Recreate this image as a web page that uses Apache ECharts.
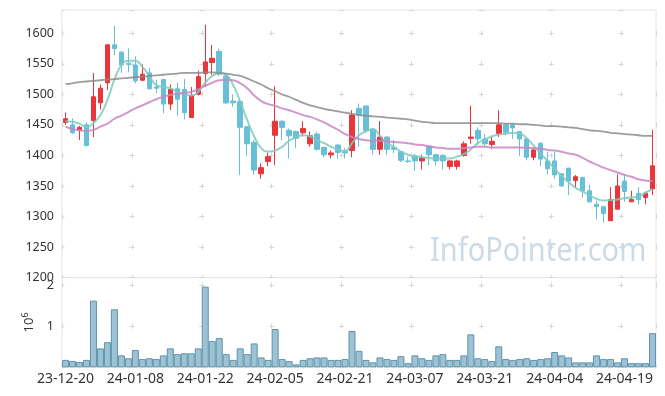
<!DOCTYPE html>
<html>
<head>
<meta charset="utf-8">
<script src="https://cdn.jsdelivr.net/npm/echarts@6/dist/echarts.min.js"></script>
<style>
html,body{margin:0;padding:0;background:#fff;}
#chart{width:665px;height:396px;}
</style>
</head>
<body>
<div id="chart"></div>
<script>
const dates = ['23-12-20','23-12-21','23-12-22','23-12-26','23-12-27','23-12-28','24-01-02','24-01-03','24-01-04','24-01-05',
'24-01-08','24-01-09','24-01-10','24-01-11','24-01-12','24-01-15','24-01-16','24-01-17','24-01-18','24-01-19',
'24-01-22','24-01-23','24-01-24','24-01-25','24-01-26','24-01-29','24-01-30','24-01-31','24-02-01','24-02-02',
'24-02-05','24-02-06','24-02-07','24-02-08','24-02-13','24-02-14','24-02-15','24-02-16','24-02-19','24-02-20',
'24-02-21','24-02-22','24-02-23','24-02-26','24-02-27','24-02-28','24-02-29','24-03-04','24-03-05','24-03-06',
'24-03-07','24-03-08','24-03-11','24-03-12','24-03-13','24-03-14','24-03-15','24-03-18','24-03-19','24-03-20',
'24-03-21','24-03-22','24-03-25','24-03-26','24-03-27','24-03-28','24-03-29','24-04-01','24-04-02','24-04-03',
'24-04-04','24-04-05','24-04-08','24-04-09','24-04-11','24-04-12','24-04-15','24-04-16','24-04-17','24-04-18',
'24-04-19','24-04-22','24-04-23','24-04-24','24-04-25'];

const openP = [1454,1450,1441,1450,1457,1486,1519,1581,1569,1551,
1548,1523,1535,1512,1524,1484,1509,1508,1462,1500,
1534,1552,1570,1530,1489,1488,1447,1421,1370,1390,
1433,1456,1441,1439,1437,1419,1435,1413,1401,1417,
1407,1408,1477,1481,1443,1410,1430,1413,1406,1391,
1399,1391,1415,1401,1400,1382,1382,1400,1428,1441,
1427,1418,1436,1450,1450,1439,1427,1397,1420,1391,
1391,1370,1379,1359,1364,1342,1320,1316,1293,1312,
1358,1324,1338,1331,1345];
const closeP = [1460,1437,1446,1416,1496,1510,1581,1575,1548,1549,
1522,1533,1509,1510,1484,1508,1492,1470,1498,1529,
1553,1559,1533,1486,1486,1446,1419,1376,1380,1398,
1456,1446,1432,1428,1444,1432,1410,1401,1404,1405,
1404,1466,1466,1441,1410,1430,1410,1410,1392,1390,
1391,1396,1401,1391,1391,1391,1391,1419,1430,1427,
1419,1423,1450,1438,1445,1427,1397,1409,1394,1378,
1368,1350,1358,1365,1342,1324,1316,1305,1328,1350,
1341,1328,1328,1338,1383];
const lowP = [1450,1435,1425,1415,1430,1475,1507,1564,1535,1536,
1518,1522,1508,1502,1469,1474,1465,1459,1462,1498,
1512,1532,1530,1484,1480,1368,1399,1368,1362,1382,
1384,1425,1395,1412,1431,1414,1408,1397,1395,1395,
1395,1397,1414,1437,1401,1401,1401,1404,1389,1388,
1375,1377,1384,1384,1377,1377,1377,1398,1419,1417,
1414,1411,1430,1433,1427,1399,1392,1392,1382,1369,
1362,1349,1335,1348,1331,1323,1295,1290,1293,1312,
1324,1324,1319,1320,1335];
const highP = [1470,1461,1448,1454,1535,1516,1581,1612,1571,1575,
1562,1549,1543,1524,1525,1516,1519,1525,1512,1539,
1614,1581,1575,1533,1500,1492,1448,1425,1387,1404,
1513,1457,1444,1441,1456,1439,1439,1414,1408,1418,
1412,1474,1485,1481,1445,1456,1431,1425,1407,1398,
1403,1401,1416,1403,1402,1392,1393,1423,1481,1446,
1435,1431,1474,1453,1453,1440,1428,1412,1421,1406,
1406,1371,1380,1368,1365,1352,1326,1318,1348,1369,
1369,1342,1348,1341,1442];

const maShort = [1456,1455,1452,1446,1453,1466,1491,1524,1548,1555,
1555,1545,1530,1515,1512,1510,1504,1500,1498,1504,
1519,1530,1535,1532,1515,1488,1458,1431,1412,1406,
1408,1414,1424,1430,1433,1431,1425,1420,1414,1410,
1407,1420,1433,1440,1443,1432,1420,1414,1406,1401,
1399,1397,1396,1395,1395,1395,1398,1402,1410,1420,
1426,1431,1434,1436,1437,1436,1428,1416,1403,1391,
1378,1366,1356,1347,1341,1335,1329,1326,1327,1328,
1330,1331,1333,1339,1345];
const maMid = [1447,1443,1441,1440,1442,1447,1452,1460,1465,1471,
1477,1482,1487,1492,1496,1499,1501,1502,1504,1508,
1514,1519,1523,1524,1523,1518,1510,1498,1489,1484,
1481,1477,1474,1470,1466,1463,1459,1454,1448,1442,
1435,1430,1427,1425,1424,1424,1423,1422,1421,1420,
1418,1417,1415,1413,1412,1411,1411,1412,1413,1414,
1414,1413,1413,1413,1413,1413,1412,1412,1411,1409,
1408,1406,1403,1401,1396,1390,1385,1380,1376,1372,
1368,1365,1361,1359,1358];
const maLong = [1517,1518,1520,1521,1522,1523,1524,1525,1526,1527,
1528,1529,1530,1531,1532,1533,1534,1535,1535,1535,
1536,1536,1535,1534,1532,1530,1526,1521,1516,1510,
1505,1500,1496,1491,1486,1482,1479,1476,1474,1472,
1470,1468,1466,1465,1464,1463,1462,1461,1460,1459,
1457,1455,1454,1453,1453,1453,1453,1453,1453,1453,
1453,1453,1453,1452,1452,1451,1451,1450,1449,1448,
1448,1447,1446,1445,1443,1441,1440,1439,1437,1436,
1435,1434,1433,1432,1432];

const volumeM = [0.18,0.155,0.13,0.18,1.62,0.46,0.61,1.41,0.29,0.22,
0.42,0.2,0.22,0.2,0.29,0.46,0.32,0.34,0.34,0.46,
1.96,0.64,0.71,0.32,0.18,0.46,0.32,0.58,0.24,0.18,
0.93,0.2,0.15,0.07,0.18,0.22,0.24,0.24,0.18,0.18,
0.2,0.88,0.4,0.18,0.12,0.24,0.2,0.18,0.27,0.1,
0.29,0.22,0.18,0.29,0.32,0.18,0.18,0.29,0.8,0.22,
0.2,0.15,0.51,0.2,0.18,0.2,0.22,0.18,0.2,0.22,
0.37,0.29,0.24,0.12,0.12,0.12,0.29,0.2,0.2,0.12,
0.22,0.1,0.1,0.1,0.83];

const candleData = dates.map((d, i) => [openP[i], closeP[i], lowP[i], highP[i]]);

const chart = echarts.init(document.getElementById('chart'), null, {renderer: 'canvas'});
const gridL = 62, gridR = 9;
const mainTop = 10, mainH = 267.6, volTop = 277.6, volH = 89.7;
const priceMin = 1200, priceMax = 1638;
const volMax = 2.18;
const plotW = 665 - gridL - gridR;
const xPeriod = plotW / dates.length * 10;
const pPeriod = mainH / (priceMax - priceMin) * 50;
const vPeriod = volH / volMax;
// phase of vertical dashes so that crosses sit on horizontal grid lines
const firstPriceLineRel = mainH - 8 * pPeriod;
const pOffset = pPeriod - ((firstPriceLineRel - 2.5) % pPeriod);
const firstVolLineRel = volH - 2 * vPeriod;
const vOffset = vPeriod - ((firstVolLineRel - 2.5) % vPeriod);
const crossColor = '#d6d6d6';
const txt = '#333';
const font = 'Noto Sans';

chart.setOption({
  animation: false,
  backgroundColor: '#fff',
  grid: [
    {left: gridL, right: gridR, top: mainTop, height: mainH, show: true, borderColor: '#e6e6e6', borderWidth: 1},
    {left: gridL, right: gridR, top: volTop, height: volH, show: true, borderColor: '#e6e6e6', borderWidth: 1}
  ],
  xAxis: [
    {type: 'category', gridIndex: 0, data: dates, boundaryGap: true,
     axisLine: {show: false}, axisTick: {show: false, interval: 9}, axisLabel: {show: false, interval: 9},
     splitLine: {show: true, interval: 9, lineStyle: {color: crossColor, width: 1, type: [5, pPeriod - 5], dashOffset: pOffset}}},
    {type: 'category', gridIndex: 1, data: dates, boundaryGap: true,
     axisLine: {show: false}, axisTick: {show: false, interval: 9},
     axisLabel: {show: true, interval: 9, color: txt, fontSize: 14, fontFamily: font, margin: 5},
     splitLine: {show: true, interval: 9, lineStyle: {color: crossColor, width: 1, type: [5, vPeriod - 5], dashOffset: vOffset}}}
  ],
  yAxis: [
    {type: 'value', gridIndex: 0, min: priceMin, max: priceMax, interval: 50,
     axisLine: {show: false}, axisTick: {show: false},
     axisLabel: {color: txt, fontSize: 12.5, fontFamily: font, margin: 8,
       formatter: v => (v % 50 === 0 ? String(v) : '')},
     splitLine: {show: true, lineStyle: {color: crossColor, width: 1, type: [5, xPeriod - 5], dashOffset: 2.5}}},
    {type: 'value', gridIndex: 1, min: 0, max: volMax, interval: 1,
     axisLine: {show: false}, axisTick: {show: false},
     axisLabel: {color: txt, fontSize: 12.5, fontFamily: font, margin: 8,
       formatter: v => ((v === 1 || v === 2) ? String(v) : '')},
     splitLine: {show: true, lineStyle: {color: crossColor, width: 1, type: [5, xPeriod - 5], dashOffset: 2.5}},
     name: '{b|10}{s|6}', nameLocation: 'middle', nameRotate: 90, nameGap: 22,
     nameTextStyle: {rich: {b: {fontSize: 13, fontFamily: font, color: txt}, s: {fontSize: 9, fontFamily: font, color: txt, padding: [0, 0, 8, 0]}}}}
  ],
  graphic: [
    {type: 'text', left: 430, top: 236, z: 0, silent: true, scaleY: 1.12,
     style: {text: 'InfoPointer.com', font: '29px "Noto Sans"', fill: '#cddbe6'}}
  ],
  series: [
    {type: 'candlestick', name: 'price', xAxisIndex: 0, yAxisIndex: 0, data: candleData, barWidth: 5, z: 2,
     itemStyle: {color: '#e8363a', color0: '#67bfd8', borderColor: '#e8363a', borderColor0: '#67bfd8', borderWidth: 1}},
    {type: 'line', name: 'MA5', xAxisIndex: 0, yAxisIndex: 0, data: maShort, smooth: true, symbol: 'none', z: 3,
     lineStyle: {color: '#7fcac0', width: 2, opacity: 0.85}},
    {type: 'line', name: 'MA20', xAxisIndex: 0, yAxisIndex: 0, data: maMid, smooth: true, symbol: 'none', z: 3,
     lineStyle: {color: '#c886c6', width: 2, opacity: 0.85}},
    {type: 'line', name: 'MA60', xAxisIndex: 0, yAxisIndex: 0, data: maLong, smooth: true, symbol: 'none', z: 3,
     lineStyle: {color: '#8c8c8c', width: 1.8, opacity: 0.85}},
    {type: 'bar', name: 'volume', xAxisIndex: 1, yAxisIndex: 1, data: volumeM, barCategoryGap: '0%', z: 2,
     itemStyle: {color: '#9cc2d3', borderColor: '#5f93ad', borderWidth: 1}}
  ]
});
</script>
</body>
</html>
